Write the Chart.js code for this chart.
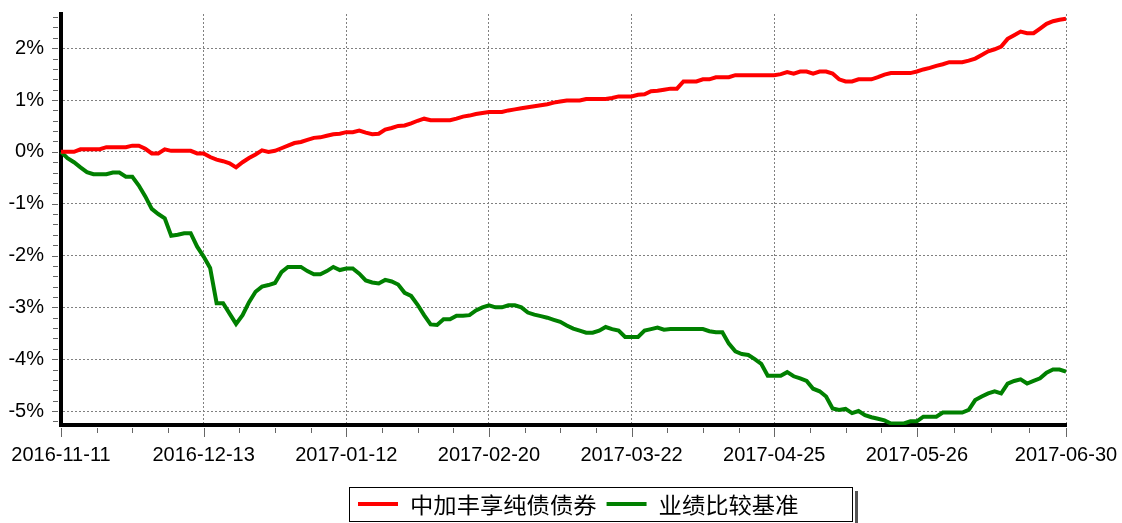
<!DOCTYPE html>
<html>
<head>
<meta charset="utf-8">
<script src="https://cdn.jsdelivr.net/npm/chart.js@4.4.1/dist/chart.umd.min.js"></script>
<style>
html,body{margin:0;padding:0;background:#fff;}
#wrap{width:1122px;height:523px;position:relative;}
</style>
</head>
<body>
<div id="wrap"><canvas id="c" width="1122" height="523"></canvas></div>
<script>
// ---- data ----
const dates = [
'2016-11-11','2016-11-14','2016-11-15','2016-11-16','2016-11-17','2016-11-18','2016-11-21','2016-11-22','2016-11-23','2016-11-24',
'2016-11-25','2016-11-28','2016-11-29','2016-11-30','2016-12-01','2016-12-02','2016-12-05','2016-12-06','2016-12-07','2016-12-08',
'2016-12-09','2016-12-12','2016-12-13','2016-12-14','2016-12-15','2016-12-16','2016-12-19','2016-12-20','2016-12-21','2016-12-22',
'2016-12-23','2016-12-26','2016-12-27','2016-12-28','2016-12-29','2016-12-30','2016-12-31','2017-01-03','2017-01-04','2017-01-05',
'2017-01-06','2017-01-09','2017-01-10','2017-01-11','2017-01-12','2017-01-13','2017-01-16','2017-01-17','2017-01-18','2017-01-19',
'2017-01-20','2017-01-23','2017-01-24','2017-01-25','2017-01-26','2017-02-03','2017-02-06','2017-02-07','2017-02-08','2017-02-09',
'2017-02-10','2017-02-13','2017-02-14','2017-02-15','2017-02-16','2017-02-17','2017-02-20','2017-02-21','2017-02-22','2017-02-23',
'2017-02-24','2017-02-27','2017-02-28','2017-03-01','2017-03-02','2017-03-03','2017-03-06','2017-03-07','2017-03-08','2017-03-09',
'2017-03-10','2017-03-13','2017-03-14','2017-03-15','2017-03-16','2017-03-17','2017-03-20','2017-03-21','2017-03-22','2017-03-23',
'2017-03-24','2017-03-27','2017-03-28','2017-03-29','2017-03-30','2017-03-31','2017-04-05','2017-04-06','2017-04-07','2017-04-10',
'2017-04-11','2017-04-12','2017-04-13','2017-04-14','2017-04-17','2017-04-18','2017-04-19','2017-04-20','2017-04-21','2017-04-24',
'2017-04-25','2017-04-26','2017-04-27','2017-04-28','2017-05-02','2017-05-03','2017-05-04','2017-05-05','2017-05-08','2017-05-09',
'2017-05-10','2017-05-11','2017-05-12','2017-05-15','2017-05-16','2017-05-17','2017-05-18','2017-05-19','2017-05-22','2017-05-23',
'2017-05-24','2017-05-25','2017-05-26','2017-05-31','2017-06-01','2017-06-02','2017-06-05','2017-06-06','2017-06-07','2017-06-08',
'2017-06-09','2017-06-12','2017-06-13','2017-06-14','2017-06-15','2017-06-16','2017-06-19','2017-06-20','2017-06-21','2017-06-22',
'2017-06-23','2017-06-26','2017-06-27','2017-06-28','2017-06-29','2017-06-30'
];

const fundReturn = [
0.00,0.00,0.00,0.05,0.05,0.05,0.05,0.09,0.09,0.09,
0.09,0.12,0.12,0.06,-0.03,-0.03,0.05,0.02,0.02,0.02,
0.02,-0.03,-0.03,-0.10,-0.15,-0.18,-0.22,-0.30,-0.20,-0.12,
-0.05,0.03,0.00,0.02,0.07,0.12,0.17,0.19,0.23,0.27,
0.28,0.31,0.34,0.35,0.38,0.38,0.41,0.37,0.34,0.35,
0.43,0.46,0.50,0.51,0.55,0.60,0.64,0.61,0.61,0.61,
0.61,0.64,0.68,0.70,0.73,0.75,0.77,0.77,0.77,0.80,
0.82,0.84,0.86,0.88,0.90,0.92,0.95,0.97,0.99,0.99,
0.99,1.02,1.02,1.02,1.02,1.04,1.07,1.07,1.07,1.10,
1.11,1.17,1.18,1.20,1.22,1.22,1.36,1.36,1.36,1.40,
1.40,1.44,1.44,1.44,1.48,1.48,1.48,1.48,1.48,1.48,
1.48,1.50,1.54,1.51,1.55,1.55,1.51,1.55,1.55,1.51,
1.40,1.36,1.36,1.40,1.40,1.40,1.44,1.49,1.52,1.52,
1.52,1.52,1.55,1.59,1.62,1.66,1.69,1.73,1.73,1.73,
1.76,1.80,1.87,1.94,1.98,2.03,2.18,2.25,2.32,2.29,
2.29,2.38,2.47,2.52,2.55,2.57
];

const benchmarkReturn = [
0.00,-0.12,-0.20,-0.30,-0.39,-0.43,-0.43,-0.43,-0.40,-0.40,
-0.48,-0.48,-0.65,-0.86,-1.10,-1.20,-1.28,-1.62,-1.60,-1.57,
-1.57,-1.83,-2.02,-2.24,-2.92,-2.92,-3.12,-3.32,-3.15,-2.90,
-2.70,-2.60,-2.57,-2.53,-2.32,-2.22,-2.22,-2.22,-2.30,-2.36,
-2.36,-2.30,-2.22,-2.28,-2.25,-2.25,-2.35,-2.48,-2.52,-2.54,
-2.47,-2.50,-2.56,-2.72,-2.78,-2.95,-3.15,-3.33,-3.34,-3.23,
-3.23,-3.16,-3.16,-3.15,-3.06,-3.00,-2.96,-3.00,-3.00,-2.96,
-2.96,-3.00,-3.10,-3.14,-3.17,-3.20,-3.24,-3.28,-3.35,-3.41,
-3.45,-3.49,-3.49,-3.45,-3.38,-3.42,-3.45,-3.57,-3.57,-3.57,
-3.45,-3.42,-3.39,-3.43,-3.42,-3.42,-3.42,-3.42,-3.42,-3.42,
-3.46,-3.48,-3.48,-3.70,-3.85,-3.90,-3.92,-4.00,-4.09,-4.32,
-4.32,-4.32,-4.25,-4.33,-4.37,-4.42,-4.57,-4.62,-4.72,-4.95,
-4.98,-4.96,-5.04,-5.00,-5.08,-5.12,-5.15,-5.18,-5.24,-5.24,
-5.24,-5.20,-5.20,-5.11,-5.11,-5.11,-5.03,-5.03,-5.03,-5.03,
-4.98,-4.79,-4.72,-4.66,-4.62,-4.66,-4.47,-4.42,-4.39,-4.47,
-4.42,-4.37,-4.26,-4.20,-4.20,-4.24
];

const seriesNames = ['中加丰享纯债债券', '业绩比较基准'];
const seriesColors = ['#ff0000', '#008000'];
const xTickLabels = ['2016-11-11','2016-12-13','2017-01-12','2017-02-20','2017-03-22','2017-04-25','2017-05-26','2017-06-30'];
const yTickValues = [-5, -4, -3, -2, -1, 0, 1, 2];
const yMin = -5.27, yMax = 2.66;

// ---- chart ----
const LATIN = '"Liberation Sans", Arial, sans-serif';
const CJK = '"Noto Sans CJK SC", "Noto Sans", sans-serif';
const tickIdx = xTickLabels.map(l => dates.indexOf(l));

const decor = {
  id: 'decor',
  afterDraw(chart) {
    const { ctx, chartArea: a, scales: { x, y } } = chart;
    ctx.save();
    ctx.strokeStyle = '#666';
    ctx.lineWidth = 1;
    // y-axis tick marks (major + minor)
    for (let k = Math.ceil(yMin * 5); k <= Math.floor(yMax * 5); k++) {
      const py = Math.round(y.getPixelForValue(k / 5)) + 0.5;
      const major = (k % 5 === 0);
      ctx.beginPath();
      ctx.moveTo(a.left - 3 - (major ? 6 : 5), py);
      ctx.lineTo(a.left - 3, py);
      ctx.stroke();
    }
    // x-axis tick marks (major at labels, 3 minor between)
    for (let j = 0; j < tickIdx.length; j++) {
      const v = tickIdx[j];
      const px = Math.round(x.getPixelForValue(v)) + 0.5;
      ctx.beginPath(); ctx.moveTo(px, a.bottom + 3); ctx.lineTo(px, a.bottom + 12); ctx.stroke();
      if (j < tickIdx.length - 1) {
        const step = (tickIdx[j + 1] - v) / 4;
        for (let m = 1; m < 4; m++) {
          const mx = Math.round(x.getPixelForValue(v + m * step)) + 0.5;
          ctx.beginPath(); ctx.moveTo(mx, a.bottom + 3); ctx.lineTo(mx, a.bottom + 8); ctx.stroke();
        }
      }
    }
    // legend box
    const bx = 349, by = 487, bw = 503, bh = 34;
    ctx.fillStyle = '#555';
    ctx.fillRect(bx + bw + 3, by + 4, 3, bh);
    ctx.strokeStyle = '#000';
    ctx.lineWidth = 1;
    ctx.strokeRect(bx + 0.5, by + 0.5, bw, bh);
    ctx.font = '22px ' + CJK;
    ctx.textBaseline = 'middle';
    ctx.textAlign = 'left';
    let cx = bx + 9;
    const cy = by + bh / 2;
    chart.data.datasets.forEach((ds) => {
      ctx.strokeStyle = ds.borderColor;
      ctx.lineWidth = 4;
      ctx.beginPath(); ctx.moveTo(cx, cy); ctx.lineTo(cx + 40, cy); ctx.stroke();
      cx += 52;
      ctx.fillStyle = '#000';
      const label = ds.label;
      ctx.save();
      ctx.translate(cx, cy);
      ctx.scale(1.06, 1);
      ctx.fillText(label, 0, 1);
      ctx.restore();
      cx += ctx.measureText(label).width * 1.06 + 10;
    });
    ctx.restore();
  }
};

new Chart(document.getElementById('c'), {
  type: 'line',
  data: {
    labels: dates,
    datasets: [
      { label: seriesNames[0], data: fundReturn, borderColor: seriesColors[0], backgroundColor: seriesColors[0], borderWidth: 4, pointRadius: 0, tension: 0, fill: false },
      { label: seriesNames[1], data: benchmarkReturn, borderColor: seriesColors[1], backgroundColor: seriesColors[1], borderWidth: 4, pointRadius: 0, tension: 0, fill: false }
    ]
  },
  options: {
    responsive: false,
    animation: false,
    layout: { padding: { left: 0, right: 56, top: 14, bottom: 48 } },
    plugins: { legend: { display: false }, tooltip: { enabled: false } },
    scales: {
      x: {
        type: 'category',
        offset: false,
        afterBuildTicks: s => { s.ticks = tickIdx.map(v => ({ value: v })); },
        afterFit: s => { s.height = 50; s.paddingLeft = 0; s.paddingRight = 0; },
        ticks: { autoSkip: false, maxRotation: 0, minRotation: 0, padding: 0, color: '#000', font: { family: LATIN, size: 20 } },
        grid: { color: '#808080', lineWidth: 1, drawTicks: true, tickLength: 18, tickWidth: 0, tickColor: 'rgba(0,0,0,0)' },
        border: { display: true, color: '#000', width: 4, dash: [2, 2] }
      },
      y: {
        min: yMin, max: yMax,
        afterBuildTicks: s => { s.ticks = yTickValues.map(v => ({ value: v })); },
        afterFit: s => { s.width = 61; s.paddingTop = 0; s.paddingBottom = 0; },
        ticks: { padding: 0, color: '#000', font: { family: LATIN, size: 20 }, callback: v => v + '%' },
        grid: { color: '#808080', lineWidth: 1, drawTicks: true, tickLength: 17, tickWidth: 0, tickColor: 'rgba(0,0,0,0)' },
        border: { display: true, color: '#000', width: 4, dash: [2, 2] }
      }
    }
  },
  plugins: [decor]
});
</script>
</body>
</html>
